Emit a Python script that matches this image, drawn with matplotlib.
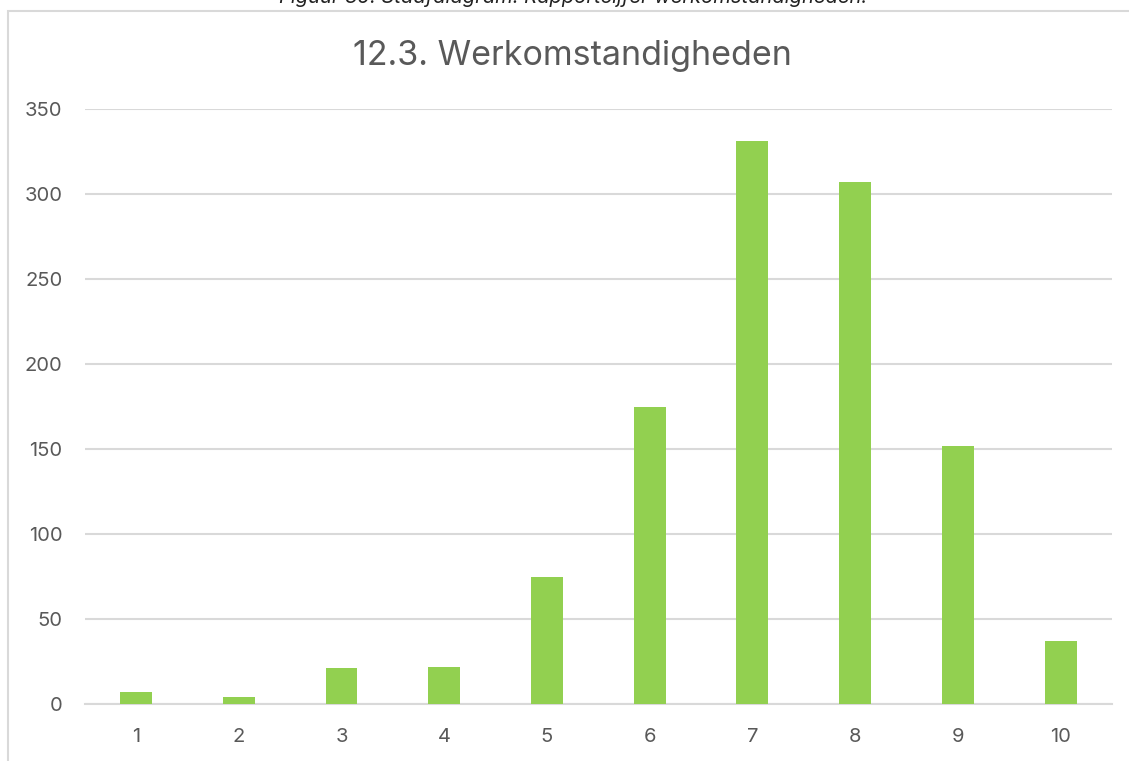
import matplotlib
matplotlib.use("Agg")
import matplotlib.pyplot as plt
from matplotlib.patches import Rectangle

categories = ["1", "2", "3", "4", "5", "6", "7", "8", "9", "10"]
values = [7, 4, 21, 22, 75, 175, 331, 307, 152, 37]
yticks = [0, 50, 100, 150, 200, 250, 300, 350]
title = "12.3. Werkomstandigheden"
caption = "Figuur 39: Staafdiagram: Rapportcijfer werkomstandigheden."

plt.rcParams['font.family'] = ['Inter', 'DejaVu Sans']
W, H = 1129, 761
fig = plt.figure(figsize=(W/100, H/100), dpi=100)
fig.patch.set_facecolor("white")

# outer chart border
fig.add_artist(Rectangle((8/W, -0.01), 1.1, 1 - 10.5/H + 0.01, transform=fig.transFigure,
                         fill=False, edgecolor="#d9d9d9", linewidth=1.5))
fig.text(573/W, 1 - 3/H, caption, ha="center", va="baseline", fontsize=14.5,
         style="italic", color="#222222")

ax = fig.add_axes([84.6/W, 1 - 704/H, (1112-84.6)/W, (704-109)/H])
x = list(range(len(categories)))
ax.bar(x, values, width=0.31, color="#92d050", zorder=3)
ax.set_xlim(-0.5, len(categories) - 0.5)
ax.set_ylim(0, 350)
ax.set_yticks(yticks)
ax.set_xticks(x)
ax.set_xticklabels(categories)
for s in ["top", "right", "left"]:
    ax.spines[s].set_visible(False)
ax.spines["bottom"].set_color("#d9d9d9")
ax.spines["bottom"].set_linewidth(1.5)
ax.grid(axis="y", color="#d9d9d9", linewidth=1.5, zorder=0)
ax.tick_params(axis="both", length=0, labelsize=14.5, labelcolor="#595959")
ax.tick_params(axis="y", pad=16)
ax.tick_params(axis="x", pad=17)

fig.text(572/W, 1 - 56/H, title, ha="center", va="center", fontsize=24.5, color="#595959")

fig.savefig("out.png", dpi=100)
